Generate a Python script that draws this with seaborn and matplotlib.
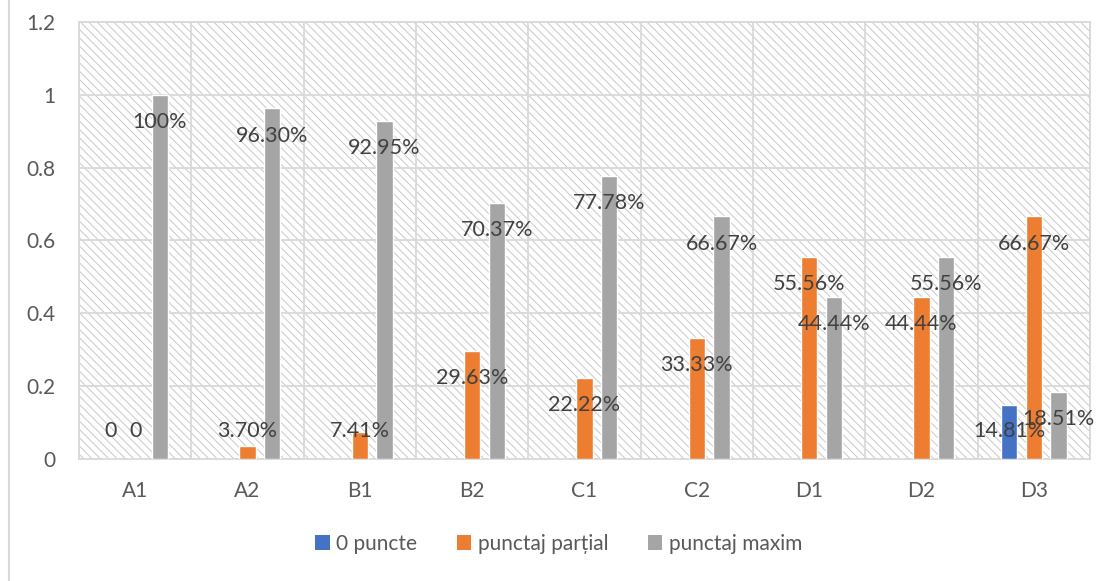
import pandas as pd
import numpy as np
import matplotlib
matplotlib.use("Agg")
import matplotlib.pyplot as plt
import seaborn as sns
from matplotlib.patches import Rectangle, Patch
from matplotlib.lines import Line2D
from matplotlib.ticker import FuncFormatter, FixedLocator

# data
categories = ["A1", "A2", "B1", "B2", "C1", "C2", "D1", "D2", "D3"]
series = ["0 puncte", "punctaj parțial", "punctaj maxim"]
zero_pts = [0, 0, 0, 0, 0, 0, 0, 0, 0.1481]
partial_pts = [0, 0.037, 0.0741, 0.2963, 0.2222, 0.3333, 0.5556, 0.4444, 0.6667]
max_pts = [1.0, 0.963, 0.9295, 0.7037, 0.7778, 0.6667, 0.4444, 0.5556, 0.1851]

# data label texts (empty = no label shown)
zero_labels = ["0", "", "", "", "", "", "", "", "14.81%"]
partial_labels = ["0", "3.70%", "7.41%", "29.63%", "22.22%", "33.33%", "55.56%", "44.44%", "66.67%"]
max_labels = ["100%", "96.30%", "92.95%", "70.37%", "77.78%", "66.67%", "44.44%", "55.56%", "18.51%"]

colors = ["#4472C4", "#ED7D31", "#A5A5A5"]
text_col = "#595959"
grid_col = "#D9D9D9"

# long form table for seaborn
df = pd.DataFrame({
    "cat": categories * 3,
    "series": [s for s in series for _ in categories],
    "val": zero_pts + partial_pts + max_pts,
})

sns.set_style("white")
plt.rcParams["font.family"] = ["Lato", "DejaVu Sans"]
plt.rcParams["hatch.linewidth"] = 0.7
plt.rcParams["hatch.color"] = "#C8C8C8"

fig = plt.figure(figsize=(11.13, 5.81), dpi=100)
ax = fig.add_axes([79 / 1113, 1 - 459 / 581, (1090 - 79) / 1113, (459 - 22) / 581])

# hatched plot-area background
ax.add_patch(Rectangle((0, 0), 1, 1, transform=ax.transAxes, facecolor="white",
                       edgecolor="#C8C8C8", hatch="\\\\\\\\", linewidth=0, zorder=0))

sns.barplot(data=df, x="cat", y="val", hue="series", hue_order=series,
            palette=colors, width=0.66, gap=0.34, saturation=1, ax=ax,
            legend=False, zorder=3)

ax.set_ylim(0, 1.2)
ax.set_xlim(-0.5, len(categories) - 0.5)
ax.yaxis.set_major_locator(FixedLocator(np.arange(0, 1.21, 0.2)))
ax.yaxis.set_major_formatter(FuncFormatter(lambda v, p: f"{round(v, 1):g}"))
ax.xaxis.set_minor_locator(FixedLocator(np.arange(-0.5, len(categories), 1.0)))
ax.grid(axis="y", which="major", color=grid_col, linewidth=1.3, zorder=1)
ax.grid(axis="x", which="minor", color=grid_col, linewidth=1.3, zorder=1)
ax.set_axisbelow(True)
for s in ax.spines.values():
    s.set_color(grid_col)
    s.set_linewidth(1.3)
ax.tick_params(axis="both", which="both", length=0, colors=text_col, labelsize=15)
ax.tick_params(axis="x", pad=16)
ax.tick_params(axis="y", pad=17)
ax.set_xlabel("")
ax.set_ylabel("")

# data labels: centred on bar, just below the top (or just above the axis for short bars)
for cont, labels in zip(ax.containers, [zero_labels, partial_labels, max_labels]):
    for bar, lab in zip(cont, labels):
        if not lab:
            continue
        h = bar.get_height()
        y = max(h - 0.075, 0.077)
        ax.text(bar.get_x() + bar.get_width() / 2, y, lab, ha="center", va="center",
                fontsize=15.5, color="#404040", zorder=5)

handles = [Patch(facecolor=c, edgecolor="none") for c in colors]
fig.legend(handles, series, loc="center", bbox_to_anchor=(0.502, 1 - 544 / 581), ncol=3,
           frameon=False, fontsize=15, handlelength=0.7, handleheight=0.7,
           handletextpad=0.3, columnspacing=1.9, labelcolor=text_col)

# chart border (left edge visible)
fig.add_artist(Line2D([9 / 1113, 9 / 1113], [0, 1], transform=fig.transFigure,
                      color=grid_col, linewidth=1.5))

fig.savefig("out.png", dpi=100)
